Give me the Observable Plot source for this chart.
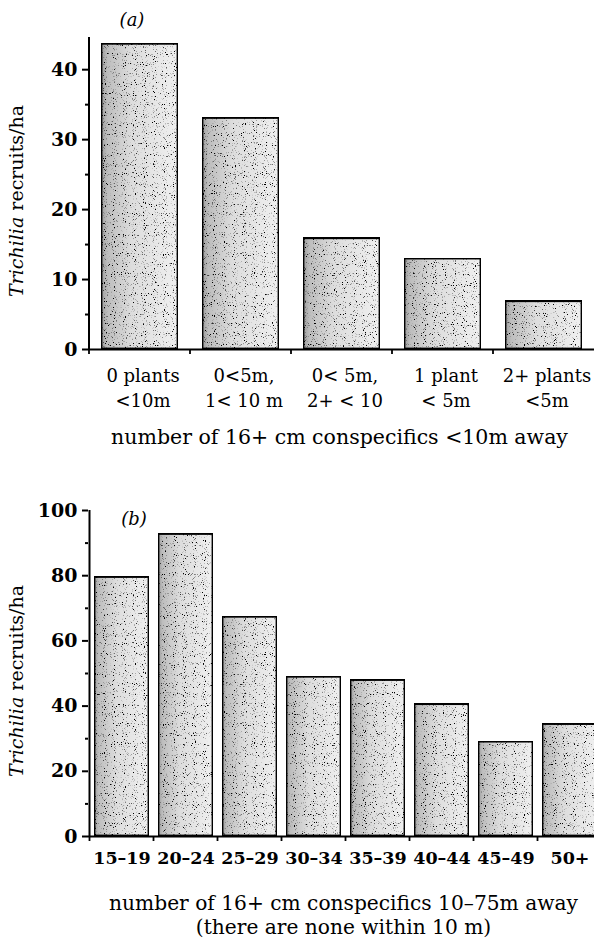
<!DOCTYPE html>
<html>
<head>
<meta charset="utf-8">
<script src="https://cdn.jsdelivr.net/npm/d3@7"></script>
<script src="https://cdn.jsdelivr.net/npm/@observablehq/plot@0.6"></script>
<style>
  html, body { margin: 0; padding: 0; background: #fff; }
  #chart { width: 594px; height: 938px; overflow: hidden; }
  #chart svg { display: block; }
</style>
</head>
<body>
<div id="chart"></div>
<script>
// ---- data ----
const catsA = ["0 plants\n<10m", "0<5m,\n1< 10 m", "0< 5m,\n2+ < 10", "1 plant\n< 5m", "2+ plants\n<5m"];
const valsA = [43.7, 33.1, 15.9, 13.0, 6.9];
const ticksA = [0, 10, 20, 30, 40];
const minorA = [5, 15, 25, 35];

const catsB = ["15–19", "20–24", "25–29", "30–34", "35–39", "40–44", "45–49", "50+"];
const valsB = [79.6, 92.8, 67.4, 49.0, 48.0, 40.6, 29.1, 34.5];
const ticksB = [0, 20, 40, 60, 80, 100];
const minorB = [10, 30, 50, 70, 90];

const titleA = ["number of 16+ cm conspecifics <10m away"];
const titleB = ["number of 16+ cm conspecifics 10–75m away", "(there are none within 10 m)"];

const FONT = "DejaVu Serif";

// defs: stipple-like fill
function defsMark(id) {
  return () => {
    const d = d3.create("svg:defs");
    const lg = d.append("linearGradient").attr("id", id + "g").attr("x1", 0).attr("x2", 1).attr("y1", 0).attr("y2", 0);
    [[0, "#9a9a9a"], [0.08, "#bdbdbd"], [0.4, "#dddddd"], [1, "#f0f0f0"]].forEach(([o, c]) =>
      lg.append("stop").attr("offset", o).attr("stop-color", c));
    const f = d.append("filter").attr("id", id + "f").attr("x", 0).attr("y", 0).attr("width", 1).attr("height", 1);
    f.append("feTurbulence").attr("type", "fractalNoise").attr("baseFrequency", 0.9).attr("numOctaves", 1).attr("seed", 7).attr("result", "n");
    f.append("feColorMatrix").attr("in", "n").attr("type", "matrix")
      .attr("values", "0 0 0 0 0  0 0 0 0 0  0 0 0 0 0  9 0 0 0 -5.4").attr("result", "dots");
    f.append("feComposite").attr("in", "dots").attr("in2", "SourceGraphic").attr("operator", "in").attr("result", "cd");
    const m = f.append("feMerge");
    m.append("feMergeNode").attr("in", "SourceGraphic");
    m.append("feMergeNode").attr("in", "cd");
    return d.node();
  };
}

// axis line, x boundary ticks, labels
function decor(cats, yTop, panelLabel, plx, ply, yLabCenter) {
  return (index, scales) => {
    const {x, y} = scales;
    const g = d3.create("svg:g");
    const bw = x.bandwidth();
    const step = x.step();
    const x0 = x(cats[0]) - (step - bw) / 2;
    // y axis line
    g.append("line").attr("x1", x0).attr("x2", x0).attr("y1", y(0)).attr("y2", y(yTop))
      .attr("stroke", "black").attr("stroke-width", 2);
    // x boundary ticks
    for (let i = 0; i < cats.length; i++) {
      const bx = x(cats[i]) - (step - bw) / 2;
      g.append("line").attr("x1", bx).attr("x2", bx).attr("y1", y(0)).attr("y2", y(0) + 5)
        .attr("stroke", "black").attr("stroke-width", 1.8);
    }
    // panel label
    g.append("text").attr("x", plx).attr("y", ply).attr("text-anchor", "middle")
      .attr("font-family", FONT).attr("font-size", 18).attr("font-style", "italic").text(panelLabel);
    // y axis title
    const t = g.append("text").attr("transform", `translate(23,${yLabCenter}) rotate(-90)`)
      .attr("text-anchor", "middle").attr("font-family", FONT).attr("font-size", 19);
    t.append("tspan").attr("font-style", "italic").text("Trichilia");
    t.append("tspan").text(" recruits/ha");
    return g.node();
  };
}

function styleBars(svg, id) {
  d3.select(svg).selectAll("g[aria-label='bar'] rect").attr("filter", `url(#${id}f)`);
}

// ---- panel (a) ----
const dataA = catsA.map((c, i) => ({c, v: valsA[i]}));
const plotA = Plot.plot({
  width: 594, height: 470,
  marginLeft: 88, marginRight: 0, marginTop: 37, marginBottom: 121,
  style: {fontFamily: FONT, background: "white", color: "black", overflow: "visible"},
  x: {domain: catsA, paddingInner: 0.24, paddingOuter: 0.12, axis: null},
  y: {domain: [0, 44.6], label: null},
  marks: [
    defsMark("sa"),
    Plot.barY(dataA, {x: "c", y: "v", fill: "url(#sag)", stroke: "black", strokeWidth: 2.8}),
    Plot.ruleY([0], {stroke: "black", strokeWidth: 2}),
    Plot.axisY({ticks: ticksA, tickSize: 6, tickPadding: 5, fontSize: 19, fontWeight: "bold", strokeWidth: 2, label: null}),
    Plot.axisY({ticks: minorA, tickSize: 3, tickFormat: () => "", strokeWidth: 2, label: null}),
    Plot.text(catsA, {x: d => d, y: () => 0, text: d => d, lineAnchor: "top", dy: 15, dx: 3, fontSize: 18, lineHeight: 1.39}),
    Plot.text(titleA, {frameAnchor: "bottom", text: d => d, dx: 339 - (88 + 594) / 2, dy: 94, fontSize: 20.5, lineAnchor: "bottom"}),
    decor(catsA, 44.6, "(a)", 132, 26, 201)
  ]
});
styleBars(plotA, "sa");

// ---- panel (b) ----
const dataB = catsB.map((c, i) => ({c, v: valsB[i]}));
const plotB = Plot.plot({
  width: 594, height: 468,
  marginLeft: 88, marginRight: 0, marginTop: 40, marginBottom: 102,
  style: {fontFamily: FONT, background: "white", color: "black", overflow: "hidden"},
  x: {domain: catsB, range: [88, 602], paddingInner: 0.143, paddingOuter: 0.0715, axis: null},
  y: {domain: [0, 100], label: null},
  marks: [
    defsMark("sb"),
    Plot.barY(dataB, {x: "c", y: "v", fill: "url(#sbg)", stroke: "black", strokeWidth: 2.8}),
    Plot.ruleY([0], {stroke: "black", strokeWidth: 2}),
    Plot.axisY({ticks: ticksB, tickSize: 6, tickPadding: 5, fontSize: 19, fontWeight: "bold", strokeWidth: 2, label: null}),
    Plot.axisY({ticks: minorB, tickSize: 3, tickFormat: () => "", strokeWidth: 2, label: null}),
    Plot.text(catsB, {x: d => d, y: () => 0, text: d => d, lineAnchor: "top", dy: 15, fontSize: 17.5, fontWeight: "bold"}),
    Plot.text([titleB.join("\n")], {frameAnchor: "bottom", text: d => d, dx: 343 - (88 + 594) / 2, dy: 56, fontSize: 20.2, lineAnchor: "top", lineHeight: 1.19}),
    decor(catsB, 100, "(b)", 134, 55, 211)
  ]
});
styleBars(plotB, "sb");

document.getElementById("chart").append(plotA, plotB);
</script>
</body>
</html>
